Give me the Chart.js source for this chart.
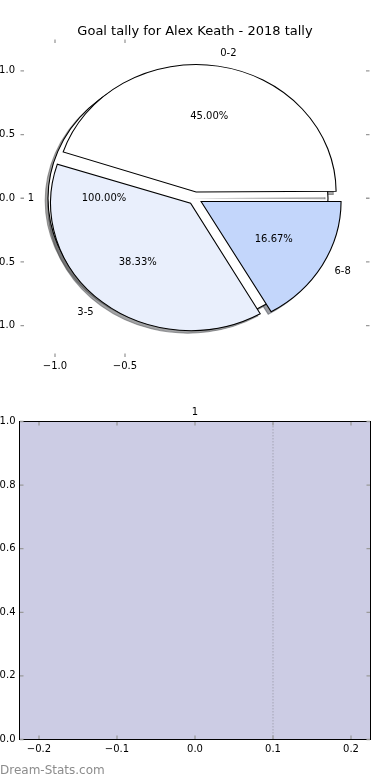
<!DOCTYPE html>
<html>
<head>
<meta charset="utf-8">
<title>Goal tally for Alex Keath - 2018 tally</title>
<script src="https://cdn.jsdelivr.net/npm/chart.js@4.4.1/dist/chart.umd.min.js"></script>
<style>
  html, body { margin: 0; padding: 0; background: #fff; }
  #page { position: relative; width: 390px; height: 780px; overflow: hidden; }
  #page canvas { position: absolute; left: 0; }
  #pieChart { top: 0; }
  #panelChart { top: 390px; }
  #source { position: absolute; left: 0; top: 762px; font: 12px "DejaVu Sans", sans-serif; line-height: 16px; color: #8c8c8c; }
</style>
</head>
<body>
<div id="page">
  <canvas id="pieChart" width="390" height="390"></canvas>
  <canvas id="panelChart" width="390" height="390"></canvas>
  <div id="source">Dream-Stats.com</div>
</div>
<script>
// ---- values ----
const pieTitle = 'Goal tally for Alex Keath - 2018 tally';
const goalBands = ['0-2', '3-5', '6-8'];
const goalShares = [45.00, 38.33, 16.67];
const bandColors = ['#ffffff', '#e9effc', '#c3d6fb'];
const backLabels = ['1'];          // the single-slice pie sitting behind
const backValues = [1];
const explode = 0.05;              // wedge push-out, in axis units
const shadowShift = 0.02;          // drop shadow offset, in axis units
const pieLimits = [-1.25, 1.25];
const pieXTicks = [-1.0, -0.5];
const pieYTicks = [-1.0, -0.5, 0.0, 0.5, 1.0];

const panelTitle = '1';
const panelSpan = [-0.225, 0.225];
const panelValue = [1];
const guideX = [0.1];
const guideSpan = [0, 1];
const panelXTicks = [-0.2, -0.1, 0.0, 0.1, 0.2];
const panelYTicks = [0.0, 0.2, 0.4, 0.6, 0.8, 1.0];

Chart.defaults.font.family = '"DejaVu Sans", sans-serif';
Chart.defaults.font.size = 10;
Chart.defaults.color = '#000';

const tickText = v => (v < 0 ? '\u2212' : '') + Math.abs(v).toFixed(1);
const fixTicks = list => scale => { scale.ticks = list.map(value => ({ value })); };
const noGrid = { display: false, drawTicks: false };

// pixels per axis unit (y) and where 0,0 sits
const pieGeom = chart => {
  const { x, y } = chart.scales;
  const cx = x.getPixelForValue(0);
  const cy = y.getPixelForValue(0);
  const R = cy - y.getPixelForValue(1);
  const k = (x.getPixelForValue(1) - cx) / R;   // axes are not square -> ellipse
  return { cx, cy, R, k };
};

// Chart.js moves an arc by offset/4
const explodePx = ctx => {
  const y = ctx.chart.scales.y;
  const u = y ? y.getPixelForValue(0) - y.getPixelForValue(1) : 0;
  return isFinite(u) ? explode * 4 * u : 0;
};

const shadowOf = hex => {
  const n = parseInt(hex.slice(1), 16);
  const r = Math.round((n >> 16 & 255) * 0.3);
  const g = Math.round((n >> 8 & 255) * 0.3);
  const b = Math.round((n & 255) * 0.3);
  return 'rgba(' + r + ',' + g + ',' + b + ',0.5)';
};

// both pies share the same centre and radius, drawn on the axes' scales
const ellipsePie = {
  id: 'ellipsePie',
  afterDatasetsUpdate(chart) {
    const { cx, cy, R } = pieGeom(chart);
    chart.data.datasets.forEach((ds, i) => {
      chart.getDatasetMeta(i).data.forEach(arc => {
        const shift = (arc.options.offset || 0) / 4;
        const fix = 1 - Math.sin(Math.min(Math.PI, arc.circumference));
        arc.x = cx;
        arc.y = cy;
        arc.innerRadius = 0;
        arc.outerRadius = R - shift * fix;
      });
    });
  },
  beforeDatasetsDraw(chart) {
    const { ctx } = chart;
    const { cx, cy, R, k } = pieGeom(chart);
    ctx.save();
    ctx.translate(cx, cy);
    ctx.scale(k, 1);
    ctx.translate(-cx, -cy);
    // shadows go under every wedge
    chart.data.datasets.forEach((ds, i) => {
      chart.getDatasetMeta(i).data.forEach(arc => {
        const mid = (arc.startAngle + arc.endAngle) / 2;
        const shift = (arc.options.offset || 0) / 4;
        const ox = arc.x + Math.cos(mid) * shift - shadowShift * R;
        const oy = arc.y + Math.sin(mid) * shift + shadowShift * R;
        ctx.beginPath();
        if (arc.circumference >= 2 * Math.PI - 1e-6) {
          ctx.arc(ox, oy, R, 0, 2 * Math.PI);
        } else {
          ctx.moveTo(ox, oy);
          ctx.arc(ox, oy, R, arc.startAngle, arc.endAngle);
          ctx.closePath();
        }
        const c = shadowOf(arc.options.backgroundColor);
        ctx.fillStyle = c;
        ctx.strokeStyle = c;
        ctx.lineWidth = 1;
        ctx.fill();
        ctx.stroke();
      });
    });
  },
  afterDatasetDraw(chart, args) {
    // full circle outline without the radial seam Chart.js would add
    const ds = chart.data.datasets[args.index];
    if (!ds.outline) return;
    const { ctx } = chart;
    const { R } = pieGeom(chart);
    args.meta.data.forEach(arc => {
      const mid = (arc.startAngle + arc.endAngle) / 2;
      const shift = (arc.options.offset || 0) / 4;
      ctx.beginPath();
      ctx.arc(arc.x + Math.cos(mid) * shift, arc.y + Math.sin(mid) * shift, R, 0, 2 * Math.PI);
      ctx.strokeStyle = ds.outline;
      ctx.lineWidth = 1;
      ctx.stroke();
    });
  },
  afterDatasetsDraw(chart) {
    const { ctx } = chart;
    ctx.restore();
    const { cx, R, k } = pieGeom(chart);
    ctx.save();
    ctx.font = '10px "DejaVu Sans", sans-serif';
    ctx.fillStyle = '#000';
    ctx.textBaseline = 'middle';
    const metas = chart.getSortedVisibleDatasetMetas().slice().reverse();
    metas.forEach(meta => {
      const ds = chart.data.datasets[meta.index];
      const total = ds.data.reduce((s, v) => s + v, 0);
      meta.data.forEach((arc, j) => {
        const mid = (arc.startAngle + arc.endAngle) / 2;
        const shift = (arc.options.offset || 0) / 4;
        const at = d => ({
          x: cx + k * Math.cos(mid) * (shift + d * R),
          y: arc.y + Math.sin(mid) * (shift + d * R)
        });
        const lp = at(1.1);
        ctx.textAlign = lp.x > cx ? 'left' : 'right';
        ctx.fillText(ds.names[j], lp.x, lp.y);
        const pp = at(0.6);
        ctx.textAlign = 'center';
        ctx.fillText((ds.data[j] / total * 100).toFixed(2) + '%', pp.x, pp.y);
      });
    });
    ctx.restore();
  }
};

// inward tick marks on all four sides, optional black frame
const innerTicks = {
  id: 'innerTicks',
  afterDraw(chart, args, opts) {
    const { ctx, chartArea: a, scales: { x, y } } = chart;
    ctx.save();
    if (opts.frame) {
      ctx.strokeStyle = '#000';
      ctx.lineWidth = 1;
      ctx.strokeRect(a.left, a.top, a.right - a.left, a.bottom - a.top);
    }
    ctx.strokeStyle = '#9a9a9a';
    ctx.lineWidth = 1.3;
    ctx.beginPath();
    x.ticks.forEach(t => {
      const px = x.getPixelForValue(t.value);
      ctx.moveTo(px, a.top + 0.5); ctx.lineTo(px, a.top + 4);
      ctx.moveTo(px, a.bottom - 0.5); ctx.lineTo(px, a.bottom - 4);
    });
    y.ticks.forEach(t => {
      const py = y.getPixelForValue(t.value);
      ctx.moveTo(a.left + 0.5, py); ctx.lineTo(a.left + 4, py);
      ctx.moveTo(a.right - 0.5, py); ctx.lineTo(a.right - 4, py);
    });
    ctx.stroke();
    ctx.restore();
  }
};

// Chart.js lays slices clockwise, matplotlib counter-clockwise: feed them reversed
const rev = arr => arr.slice().reverse();

new Chart(document.getElementById('pieChart'), {
  type: 'pie',
  data: {
    labels: rev(goalBands),
    datasets: [
      {
        data: rev(goalShares),
        names: rev(goalBands),
        backgroundColor: rev(bandColors),
        borderColor: '#000',
        borderWidth: 1,
        borderJoinStyle: 'miter',
        offset: explodePx
      },
      {
        data: backValues,
        names: backLabels,
        backgroundColor: ['#ffffff'],
        borderWidth: 0,
        outline: '#000',
        offset: explodePx
      }
    ]
  },
  options: {
    responsive: false,
    maintainAspectRatio: false,
    animation: false,
    events: [],
    rotation: 90,
    layout: { padding: { left: 0, right: 20, top: 0, bottom: 0 } },
    scales: {
      x: {
        type: 'linear', position: 'bottom',
        min: pieLimits[0], max: pieLimits[1],
        grid: noGrid, border: { display: false },
        afterBuildTicks: fixTicks(pieXTicks),
        afterFit: s => { s.height = 32.5; },
        ticks: { padding: 2.5, autoSkip: false, maxRotation: 0, callback: tickText }
      },
      y: {
        type: 'linear', position: 'left',
        min: pieLimits[0], max: pieLimits[1],
        grid: noGrid, border: { display: false },
        afterBuildTicks: fixTicks(pieYTicks),
        afterFit: s => { s.width = 20; },
        ticks: { padding: 5, autoSkip: false, callback: tickText }
      }
    },
    plugins: {
      legend: { display: false },
      tooltip: { enabled: false },
      title: {
        display: true, text: pieTitle, color: '#000',
        fullSize: false,   // centre over the axes, not the canvas
        font: { size: 13, weight: 'normal' },
        padding: { top: 23.4, bottom: 0 }
      },
      innerTicks: { frame: false }
    }
  },
  plugins: [ellipsePie, innerTicks]
});

new Chart(document.getElementById('panelChart'), {
  type: 'line',
  data: {
    datasets: [
      {
        data: guideSpan.map(y => ({ x: guideX[0], y })),
        borderColor: '#a4a4b4',
        borderWidth: 1,
        borderDash: [1.5, 1.5],
        pointRadius: 0,
        fill: false
      },
      {
        data: panelSpan.map(x => ({ x, y: panelValue[0] })),
        borderColor: 'rgba(0,0,0,0)',
        borderWidth: 0,
        pointRadius: 0,
        backgroundColor: '#cccce4',
        fill: 'origin'
      }
    ]
  },
  options: {
    responsive: false,
    maintainAspectRatio: false,
    animation: false,
    events: [],
    layout: { padding: { left: 0, right: 19.5, top: 0, bottom: 0 } },
    scales: {
      x: {
        type: 'linear', position: 'bottom',
        min: panelSpan[0], max: panelSpan[1],
        grid: noGrid, border: { display: false },
        afterBuildTicks: fixTicks(panelXTicks),
        afterFit: s => { s.height = 40.5; },
        ticks: { padding: 4, autoSkip: false, maxRotation: 0, callback: tickText }
      },
      y: {
        type: 'linear', position: 'left',
        min: 0, max: 1,
        grid: noGrid, border: { display: false },
        afterBuildTicks: fixTicks(panelYTicks),
        afterFit: s => { s.width = 19.5; },
        ticks: { padding: 4, autoSkip: false, callback: tickText }
      }
    },
    plugins: {
      legend: { display: false },
      tooltip: { enabled: false },
      title: {
        display: true, text: panelTitle, color: '#000',
        fullSize: false,
        font: { size: 10, weight: 'normal' },
        padding: { top: 16.5, bottom: 3 }
      },
      innerTicks: { frame: true }
    }
  },
  plugins: [innerTicks]
});
</script>
</body>
</html>
